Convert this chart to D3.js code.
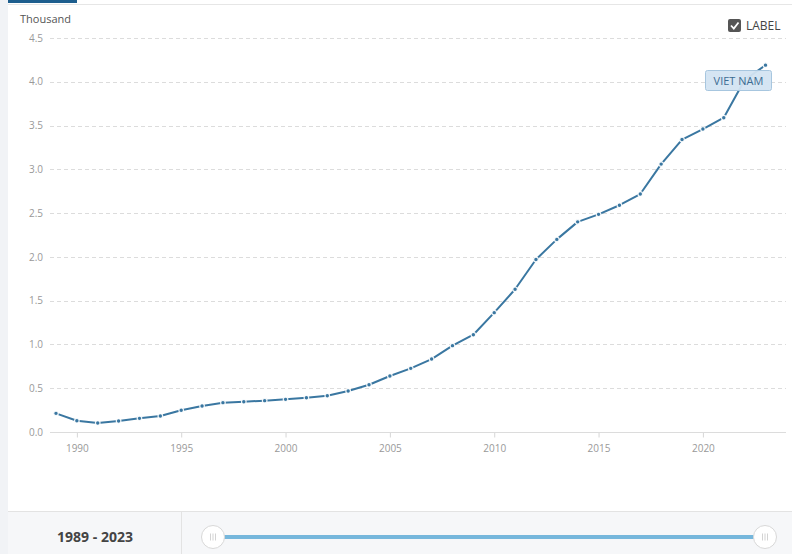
<!DOCTYPE html>
<html><head><meta charset="utf-8">
<script src="https://cdn.jsdelivr.net/npm/d3@7"></script>
<style>
html,body{margin:0;padding:0;background:#fff;}
svg{display:block;font-family:"Open Sans",sans-serif;}
</style></head>
<body>
<svg id="c" width="792" height="554"></svg>
<script>
const years = [1989,1990,1991,1992,1993,1994,1995,1996,1997,1998,1999,2000,2001,2002,2003,2004,2005,2006,2007,2008,2009,2010,2011,2012,2013,2014,2015,2016,2017,2018,2019,2020,2021,2022,2023];
const values = [0.213,0.128,0.103,0.126,0.156,0.183,0.248,0.297,0.335,0.346,0.358,0.373,0.392,0.414,0.468,0.540,0.640,0.727,0.833,0.986,1.111,1.363,1.630,1.970,2.200,2.400,2.486,2.590,2.718,3.060,3.340,3.460,3.590,4.020,4.190];
const yTicks = [0,0.5,1,1.5,2,2.5,3,3.5,4,4.5];
const xTicks = [1990,1995,2000,2005,2010,2015,2020];
const seriesName = "VIET NAM";
const unitLabel = "Thousand";
const rangeLabel = "1989 - 2023";

const svg = d3.select("#c");
const W = 792, H = 554;
const lineColor = "#3a77a1";

// page frame
svg.append("rect").attr("x",0).attr("y",0).attr("width",W).attr("height",H).attr("fill","#fff");
svg.append("rect").attr("x",0).attr("y",0).attr("width",8).attr("height",H).attr("fill","#f1f3f6");
svg.append("line").attr("x1",8).attr("x2",W).attr("y1",4.5).attr("y2",4.5).attr("stroke","#e6e6e6");
svg.append("rect").attr("x",8).attr("y",0).attr("width",69).attr("height",3).attr("fill","#1d5e8e");

const x = d3.scaleLinear().domain([1989,2023]).range([56,765.5]);
const y = d3.scaleLinear().domain([0,4.5]).range([432,38]);

// gridlines
const g = svg.append("g");
g.selectAll("line.grid").data(yTicks.filter(d=>d>0)).join("line")
  .attr("x1",50).attr("x2",786).attr("y1",d=>Math.round(y(d))+0.5).attr("y2",d=>Math.round(y(d))+0.5)
  .attr("stroke","#dcdcdc").attr("stroke-dasharray","4,3");

// y axis labels
const yAxis = d3.axisLeft(y).tickValues(yTicks).tickFormat(d3.format(".1f")).tickSize(0).tickPadding(0);
const ya = svg.append("g").attr("transform","translate(43,0)").call(yAxis);
ya.select(".domain").remove();
ya.selectAll("text").attr("fill","#999").attr("font-size","10px").attr("font-family","Open Sans");

// x axis
const xAxis = d3.axisBottom(x).tickValues(xTicks).tickFormat(d3.format("d")).tickSize(5).tickPadding(7);
const xa = svg.append("g").attr("transform","translate(0,432.5)").call(xAxis);
xa.select(".domain").remove();
xa.selectAll(".tick line").attr("stroke","#d6d6d6");
xa.selectAll("text").attr("fill","#999").attr("font-size","10px").attr("font-family","Open Sans");
svg.append("line").attr("x1",50).attr("x2",786).attr("y1",432.5).attr("y2",432.5).attr("stroke","#dcdcdc");

// unit label
svg.append("text").attr("x",20).attr("y",23).text(unitLabel).attr("fill","#555").attr("font-size","11px");

// line
const data = years.map((yr,i)=>({yr, v:values[i]}));
svg.append("path").datum(data)
  .attr("d", d3.line().x(d=>x(d.yr)).y(d=>y(d.v)))
  .attr("fill","none").attr("stroke",lineColor).attr("stroke-width",2).attr("stroke-linejoin","round");
svg.selectAll("circle.pt").data(data).join("circle")
  .attr("cx",d=>x(d.yr)).attr("cy",d=>y(d.v)).attr("r",2.3)
  .attr("fill",lineColor).attr("stroke","#fff").attr("stroke-width",1.2).attr("stroke-opacity",0.9);

// series label
const lb = svg.append("g");
lb.append("rect").attr("x",705.5).attr("y",70.5).attr("width",66).attr("height",20).attr("rx",2)
  .attr("fill","#d3e4f2").attr("fill-opacity",0.95).attr("stroke","#a7c6df");
lb.append("text").attr("x",738.5).attr("y",84.5).attr("text-anchor","middle").text(seriesName)
  .attr("fill","#3d6c92").attr("font-size","11px");

// LABEL checkbox
const cb = svg.append("g");
cb.append("rect").attr("x",728).attr("y",19).attr("width",13).attr("height",13).attr("rx",2).attr("fill","#555");
cb.append("path").attr("d","M731,25.5 L733.8,28.5 L738.5,22.5").attr("fill","none").attr("stroke","#fff").attr("stroke-width",1.8);
cb.append("text").attr("x",746).attr("y",30).text("LABEL").attr("fill","#444").attr("font-size","12px");

// bottom panel
svg.append("rect").attr("x",8).attr("y",511).attr("width",W-8).attr("height",H-511).attr("fill","#f6f7f9");
svg.append("line").attr("x1",8).attr("x2",W).attr("y1",511.5).attr("y2",511.5).attr("stroke","#e3e3e3");
svg.append("line").attr("x1",181.5).attr("x2",181.5).attr("y1",512).attr("y2",H).attr("stroke","#e3e3e3");
svg.append("text").attr("x",95).attr("y",542).attr("text-anchor","middle").text(rangeLabel)
  .attr("fill","#444").attr("font-size","14px").attr("font-weight","bold");

const sx = d3.scaleLinear().domain([1989,2023]).range([213,765]);
svg.append("line").attr("x1",sx(1989)).attr("x2",sx(2023)).attr("y1",537).attr("y2",537)
  .attr("stroke","#76b7dc").attr("stroke-width",4);
[1989,2023].forEach(v=>{
  const hg = svg.append("g").attr("transform",`translate(${sx(v)},537)`);
  hg.append("circle").attr("r",11.5).attr("fill","#fff").attr("stroke","#d8d8d8");
  [-2.5,0,2.5].forEach(dx=>hg.append("line").attr("x1",dx).attr("x2",dx).attr("y1",-3.5).attr("y2",3.5).attr("stroke","#c8c8c8").attr("stroke-width",0.8));
});
</script>
</body></html>
